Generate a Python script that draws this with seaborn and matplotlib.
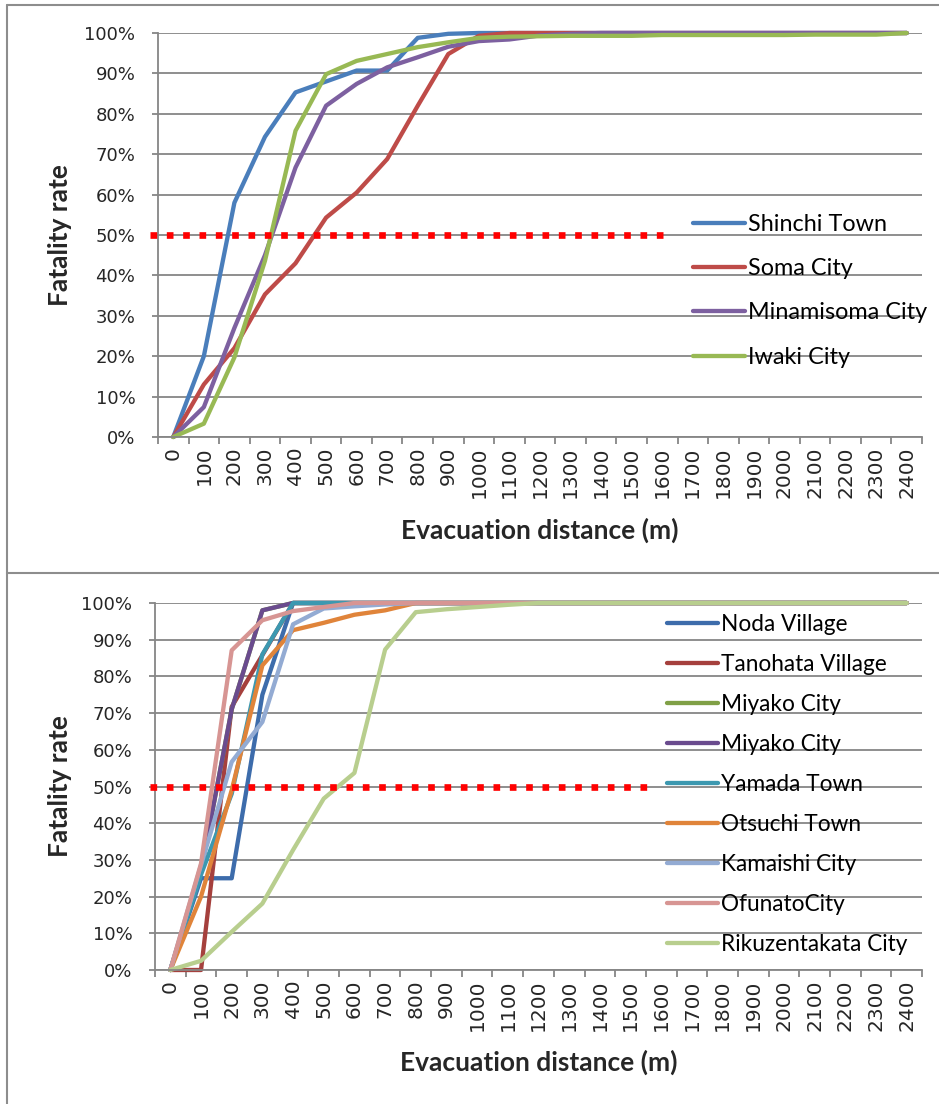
import numpy as np
import pandas as pd
import matplotlib
matplotlib.use("Agg")
import matplotlib.pyplot as plt
import seaborn as sns
from matplotlib.lines import Line2D
from matplotlib.ticker import PercentFormatter

sns.set_theme(style="white")
plt.rcParams['font.family'] = ['DejaVu Sans']

# ---------------- data ----------------
distances = [str(d) for d in range(0, 2500, 100)]  # 0 .. 2400

top_names = ["Shinchi Town", "Soma City", "Minamisoma City", "Iwaki City"]
shinchi = [0, 20, 58, 74.3, 85.3, 88, 90.7, 90.7, 98.8, 99.8, 100, 100, 100, 100, 100,
           100, 100, 100, 100, 100, 100, 100, 100, 100, 100]
soma = [0, 13, 22, 35.3, 43, 54.3, 60.5, 68.8, 82, 94.8, 99.3, 100, 100, 100, 100,
        100, 100, 100, 100, 100, 100, 100, 100, 100, 100]
minamisoma = [0, 7.4, 27, 45, 66.7, 82, 87.4, 91.5, 94, 96.6, 98, 98.4, 99.4, 99.8, 100,
              100, 100, 100, 100, 100, 100, 100, 100, 100, 100]
iwaki = [0, 3.3, 19.7, 43.6, 75.8, 89.8, 93.1, 94.8, 96.5, 97.7, 98.8, 99.1, 99.2, 99.3, 99.3,
         99.3, 99.5, 99.5, 99.5, 99.5, 99.5, 99.6, 99.6, 99.6, 100]
top_values = [shinchi, soma, minamisoma, iwaki]
top_colors = ["#4A7EBB", "#BE4B48", "#7D60A0", "#98B954"]

bottom_names = ["Noda Village", "Tanohata Village", "Miyako City", "Miyako City",
                "Yamada Town", "Otsuchi Town", "Kamaishi City", "OfunatoCity",
                "Rikuzentakata City"]
noda = [0, 25, 25, 75, 100] + [100] * 20
tanohata = [0, 0, 71.7, 85.8, 100] + [100] * 20
miyako_a = [0, 27, 71, 98, 100] + [100] * 20
miyako_b = [0, 27, 71, 98, 100] + [100] * 20
yamada = [0, 26, 48, 86, 100] + [100] * 20
otsuchi = [0, 20, 49, 83, 92.6, 94.6, 96.8, 98, 100] + [100] * 16
kamaishi = [0, 28.6, 56.7, 67.6, 94.2, 98.5, 99.1, 99.6, 100] + [100] * 16
ofunato = [0, 29, 87.1, 95.3, 97.8, 98.9, 100] + [100] * 18
rikuzentakata = [0, 2.5, 10.4, 18.1, 32.7, 46.7, 53.7, 87.3, 97.5, 98.3, 98.9, 99.5] + [100] * 13
bottom_values = [noda, tanohata, miyako_a, miyako_b, yamada, otsuchi, kamaishi, ofunato,
                 rikuzentakata]
bottom_colors = ["#3D6CAB", "#A5403D", "#80A046", "#6A4B8E", "#3C98B0", "#E0843A",
                 "#93ABD3", "#D79593", "#B8CE8E"]

threshold = 0.5
threshold_span_top = (-0.76, 16.15)      # in category positions
threshold_span_bottom = (-0.66, 15.67)

# ---------------- figure ----------------
W, H = 939, 1104
fig = plt.figure(figsize=(W / 100, H / 100), dpi=100)
fig.patch.set_facecolor("white")

ax1 = fig.add_axes([158 / W, 1 - 437 / H, 764 / W, 404 / H])
ax2 = fig.add_axes([155 / W, 1 - 970 / H, 767 / W, 367 / H])

GRID = "#868686"
LEG_FONT = "Lato"


def draw_panel(ax, names, values, colors, span, leg_anchor, leg_spacing, leg_size,
               xlab_y, ylab_x):
    pos = np.arange(len(distances))
    handles = []
    for name, vals, col in zip(names, values, colors):
        df = pd.DataFrame({"pos": pos, "rate": np.array(vals) / 100.0})
        sns.lineplot(data=df, x="pos", y="rate", ax=ax, color=col, linewidth=3.1,
                     estimator=None, sort=False, legend=False, clip_on=False,
                     solid_joinstyle="round", solid_capstyle="round")
        handles.append(Line2D([], [], color=col, lw=3.1, solid_capstyle="round"))
    # threshold dotted line
    ax.plot(list(span), [threshold, threshold], color="#FF0000", lw=4.8,
            linestyle=(0, (1, 1.45)), dash_capstyle="butt", clip_on=False, zorder=5)

    ax.set_xlim(-0.5, len(distances) - 0.5)
    ax.set_ylim(0, 1)
    ax.set_yticks(np.arange(0, 1.01, 0.1))
    ax.yaxis.set_major_formatter(PercentFormatter(1.0, decimals=0))
    ax.yaxis.grid(True, color=GRID, lw=1.3)
    ax.xaxis.grid(False)
    ax.set_axisbelow(True)
    for s in ["top", "right"]:
        ax.spines[s].set_visible(False)
    for s in ["left", "bottom"]:
        ax.spines[s].set_color(GRID)
        ax.spines[s].set_linewidth(1.3)

    ax.set_xticks(np.arange(-0.5, len(distances), 1.0))
    ax.set_xticklabels([])
    ax.set_xticks(pos, distances, minor=True)
    ax.tick_params(axis="x", which="major", direction="out", length=5, width=1.3,
                   color=GRID, bottom=True)
    ax.tick_params(axis="x", which="minor", length=0, pad=7, labelsize=14.5,
                   labelrotation=90, bottom=True)
    ax.tick_params(axis="y", which="major", direction="out", length=4.3, width=1.3,
                   color=GRID, pad=12, labelsize=13, left=True)

    ax.set_xlabel("Evacuation distance (m)", fontsize=19, fontweight="bold",
                  family=LEG_FONT)
    ax.xaxis.label.set_va("center")
    ax.xaxis.set_label_coords(0.5, xlab_y)
    ax.set_ylabel("Fatality rate", fontsize=19, fontweight="bold", family=LEG_FONT)
    ax.yaxis.label.set_va("center")
    ax.yaxis.set_label_coords(ylab_x, 0.5)

    leg = ax.legend(handles, names, loc="center left", bbox_to_anchor=leg_anchor,
                    frameon=False, prop={"family": LEG_FONT, "size": leg_size},
                    handlelength=2.25, handletextpad=0.12, labelspacing=leg_spacing,
                    borderpad=0, borderaxespad=0)
    for t in leg.get_texts():
        t.set_color("black")
    return leg


draw_panel(ax1, top_names, top_values, top_colors, threshold_span_top,
           (0.700, 0.362), 1.0, 16.8, -0.230, -0.128)
draw_panel(ax2, bottom_names, bottom_values, bottom_colors, threshold_span_bottom,
           (0.6675, 0.505), 0.84, 16.3, -0.2507, -0.124)

# panel borders
BC = "#8D8D8D"
for xs, ys in [([7, 7], [5, 573]), ([7, W + 2], [5, 5]), ([7, W + 2], [573, 573]),
               ([7, 7], [573, H + 2])]:
    fig.add_artist(Line2D([x / W for x in xs], [1 - y / H for y in ys],
                          transform=fig.transFigure, color=BC, lw=1.5))

fig.savefig("out.png", dpi=100)
